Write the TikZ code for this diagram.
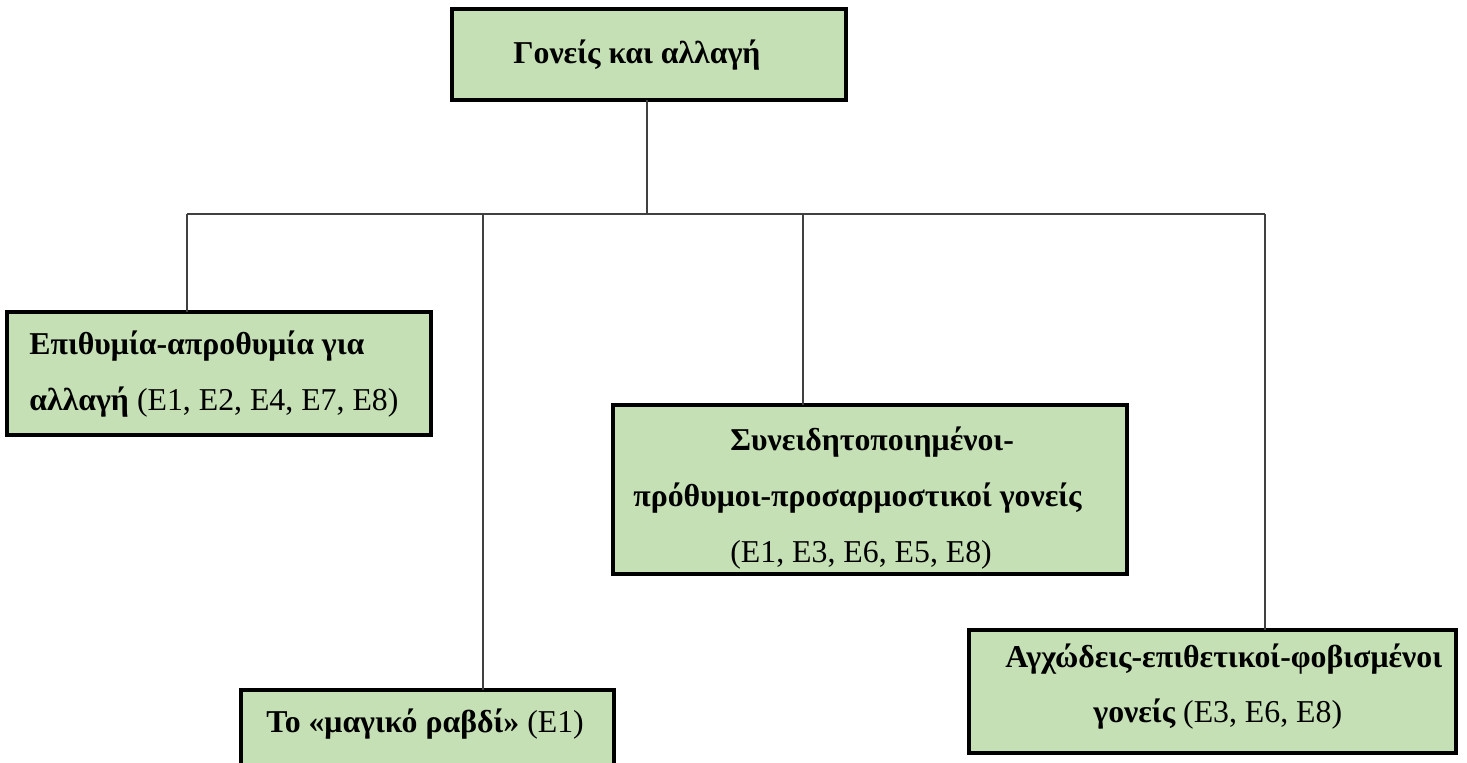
\documentclass[tikz,border=0pt]{standalone}
\usepackage{fontspec}
\setmainfont{Liberation Serif}
\definecolor{boxfill}{HTML}{C5E0B4}
\definecolor{linkgray}{HTML}{404040}
\begin{document}
\begin{tikzpicture}[x=0.5pt,y=-0.5pt,
  card/.style={draw=black,fill=boxfill,line width=2pt,inner sep=0pt},
  txt/.style={anchor=base west,inner sep=0pt,font=\fontsize{15.9}{19}\selectfont},
  link/.style={draw=linkgray,line width=0.75pt}]
\useasboundingbox (0,0) rectangle (1467,762);
\clip (0,0) rectangle (1467,762);

% boxes
\draw[card] (452,9) rectangle (846,100);
\node[inner sep=0pt] (top) at (649,54.5) [minimum width=197pt,minimum height=45.5pt] {};
\draw[card] (7,312) rectangle (431,435);
\node[inner sep=0pt] (desire) at (219,373.5) [minimum width=212pt,minimum height=61.5pt] {};
\draw[card] (613,405) rectangle (1127,574);
\node[inner sep=0pt] (aware) at (870,489.5) [minimum width=257pt,minimum height=84.5pt] {};
\draw[card] (241,690) rectangle (614,800);
\node[inner sep=0pt] (wand) at (427.5,745) [minimum width=186.5pt,minimum height=55pt] {};
\draw[card] (969,630) rectangle (1456,753);
\node[inner sep=0pt] (anxious) at (1212.5,691.5) [minimum width=243.5pt,minimum height=61.5pt] {};

% texts
\node[txt] (t0) at (513,63) {\bfseries Γονείς και αλλαγή};
\node[txt] (t1) at (29,354) {\bfseries Επιθυμία-απροθυμία για};
\node[txt] (t2) at (29,410) {\bfseries αλλαγή \mdseries(Ε1, Ε2, Ε4, Ε7, Ε8)};
\node[txt] (t3) at (730,450) {\bfseries Συνειδητοποιημένοι-};
\node[txt] (t4) at (633,506) {\bfseries πρόθυμοι-προσαρμοστικοί γονείς};
\node[txt] (t5) at (730,562) {(Ε1, Ε3, Ε6, Ε5, Ε8)};
\node[txt] (t6) at (266,732) {\bfseries Το «μαγικό ραβδί» \mdseries(Ε1)};
\node[txt] (t7) at (1005,667) {\bfseries Αγχώδεις-επιθετικοί-φοβισμένοι};
\node[txt] (t8) at (1093,722) {\bfseries γονείς \mdseries(Ε3, Ε6, Ε8)};

% connectors
\coordinate (hub) at (647,214);
\coordinate (busL) at (187,214);
\coordinate (busB) at (483,214);
\coordinate (busM) at (803,214);
\coordinate (busR) at (1265,214);
\draw[link] (top.south -| hub) -- (hub);
\draw[link] (busL) -- (busR);
\draw[link] (busL) -- (busL |- desire.north);
\draw[link] (busB) -- (busB |- wand.north);
\draw[link] (busM) -- (busM |- aware.north);
\draw[link] (busR) -- (busR |- anxious.north);
\end{tikzpicture}
\end{document}
